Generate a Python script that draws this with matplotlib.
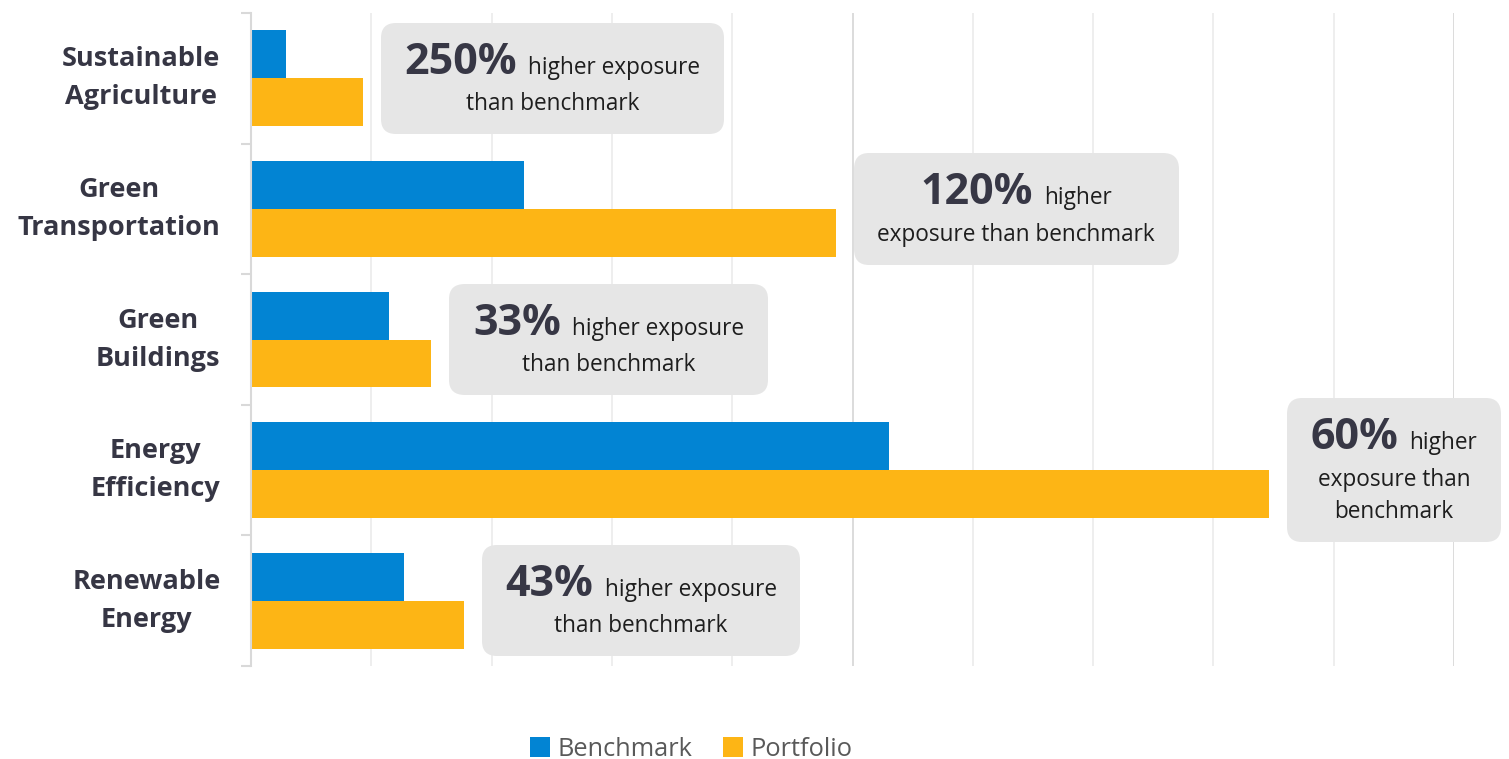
import numpy as np
import matplotlib
matplotlib.use("Agg")
import matplotlib.pyplot as plt
from matplotlib.offsetbox import TextArea, HPacker, VPacker, AnnotationBbox, DrawingArea

plt.rcParams['font.family'] = ['Open Sans', 'DejaVu Sans']

# categories bottom -> top
categories = ["Renewable\nEnergy", "Energy\nEfficiency", "Green\nBuildings",
              "Green\nTransportation", "Sustainable\nAgriculture"]
benchmark = [1.27, 5.30, 1.15, 2.27, 0.29]
portfolio = [1.77, 8.46, 1.50, 4.86, 0.93]
uplift = ["43%", "60%", "33%", "120%", "250%"]
callout_lines = [
    ["higher exposure", "than benchmark"],
    ["higher", "exposure than", "benchmark"],
    ["higher exposure", "than benchmark"],
    ["higher", "exposure than benchmark"],
    ["higher exposure", "than benchmark"],
]

BLUE = "#0284d3"
YELLOW = "#fdb515"
AXIS_GREY = "#d9d9d9"
LABEL_COLOR = "#363644"

fig = plt.figure(figsize=(15.09, 7.59), dpi=100)
ax = fig.add_axes([0.1663, 0.1225, 0.7973, 0.8603])

y = np.arange(len(categories))
bar_h = 0.367
ax.barh(y + bar_h / 2, benchmark, height=bar_h, color=BLUE, label="Benchmark")
ax.barh(y - bar_h / 2, portfolio, height=bar_h, color=YELLOW, label="Portfolio")

ax.set_xlim(0, 10)
ax.set_ylim(-0.5, len(categories) - 0.5)

# vertical grid: darker every 5 units
ax.set_xticks([0, 5, 10])
ax.set_xticks(range(1, 10), minor=True)
ax.grid(axis='x', which='major', color=AXIS_GREY, lw=1.3)
ax.grid(axis='x', which='minor', color='#ededed', lw=1.3)
ax.tick_params(axis='x', which='both', length=0, labelbottom=False)
ax.set_axisbelow(True)

# category labels at centres, tick marks at band boundaries
ax.set_yticks(y)
ax.set_yticklabels(categories, fontsize=19.5, fontweight='bold', color=LABEL_COLOR,
                   multialignment='center', linespacing=1.6)
for t in ax.get_yticklabels():
    t.set_verticalalignment('center')
ax.tick_params(axis='y', which='major', length=0, pad=22)
ax.set_yticks(np.arange(-0.5, len(categories), 1), minor=True)
ax.tick_params(axis='y', which='minor', length=7.5, width=1.5, color=AXIS_GREY)

for side in ['top', 'right', 'bottom']:
    ax.spines[side].set_visible(False)
ax.spines['left'].set_color(AXIS_GREY)
ax.spines['left'].set_linewidth(1.5)

# callout boxes
small_props = dict(fontsize=16.3, color='#1e1e1e')
for i in range(len(categories)):
    big = TextArea(uplift[i], textprops=dict(fontsize=31, fontweight='bold', color='#373745'))
    small = TextArea(callout_lines[i][0], textprops=small_props)
    rows = [HPacker(children=[big, small], align='baseline', pad=0, sep=8)]
    for line in callout_lines[i][1:]:
        rows.append(TextArea(line, textprops=small_props))
    vbox = VPacker(children=rows, align='center', pad=0, sep=6)
    box = HPacker(children=[DrawingArea(4, 0), vbox, DrawingArea(4, 0)],
                  align='center', pad=0, sep=0)
    ab = AnnotationBbox(box, (portfolio[i], y[i]), xybox=(26, 0), xycoords='data',
                        boxcoords='offset points', box_alignment=(0, 0.5),
                        frameon=True, fontsize=10, annotation_clip=False,
                        bboxprops=dict(boxstyle="round,pad=1.3,rounding_size=1.1",
                                       fc='#e6e6e6', ec='none'))
    ax.add_artist(ab)

leg = ax.legend(loc='center left', bbox_to_anchor=(0.351, 0.013),
                bbox_transform=fig.transFigure, frameon=False, ncol=2, fontsize=18.3,
                handlelength=0.8, handleheight=0.8, handletextpad=0.3,
                columnspacing=1.2, borderaxespad=0, borderpad=0)
for t in leg.get_texts():
    t.set_color('#595959')

fig.savefig("out.png", dpi=100)
